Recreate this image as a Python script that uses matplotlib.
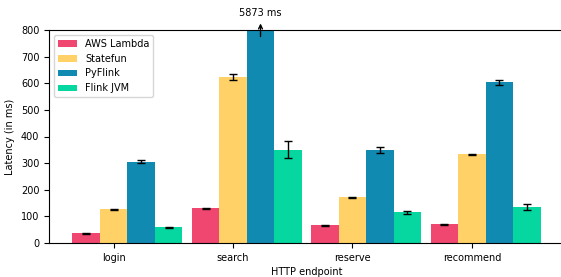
import numpy as np
import matplotlib.pyplot as plt

# latency per endpoint (ms)
endpoints = ['login', 'search', 'reserve', 'recommend']
systems = ['AWS Lambda', 'Statefun', 'PyFlink', 'Flink JVM']
colors = ['#EF476F', '#FFD166', '#118AB2', '#06D6A0']

aws_lambda = [36, 130, 66, 70]
statefun = [126, 623, 172, 333]
pyflink = [306, 5873, 350, 604]
flink_jvm = [59, 350, 116, 135]

aws_lambda_err = [1.5, 2.5, 2, 2]
statefun_err = [2, 12, 2.5, 2]
pyflink_err = [4, 40, 11, 10]
flink_jvm_err = [2, 32, 6, 10]

means = [aws_lambda, statefun, pyflink, flink_jvm]
errs = [aws_lambda_err, statefun_err, pyflink_err, flink_jvm_err]

plt.rcParams['font.size'] = 7

fig = plt.figure(figsize=(5.61, 2.77), dpi=100)
ax = fig.add_axes([49 / 561, 34 / 277, 515 / 561, 213 / 277])

x = np.arange(len(endpoints))
width = 0.23
for i, name in enumerate(systems):
    ax.bar(x + (i - 1) * width, means[i], width, yerr=errs[i], label=name,
           color=colors[i], capsize=3,
           error_kw={'elinewidth': 1, 'capthick': 1, 'ecolor': 'black'})

ax.set_ylim(0, 800)
ax.set_xticks(x)
ax.set_xticklabels(endpoints)
ax.set_xlabel('HTTP endpoint', labelpad=3)
ax.set_ylabel('Latency (in ms)')

# search / PyFlink goes way off the scale
off = x[1] + width
ax.annotate('', xy=(off, 835), xytext=(off, 765),
            arrowprops=dict(arrowstyle='->', color='black', lw=1),
            annotation_clip=False)
ax.text(off, 864, f'{pyflink[1]} ms', ha='center', va='center')

ax.legend(loc='upper left')

plt.savefig('out.png', dpi=100)
